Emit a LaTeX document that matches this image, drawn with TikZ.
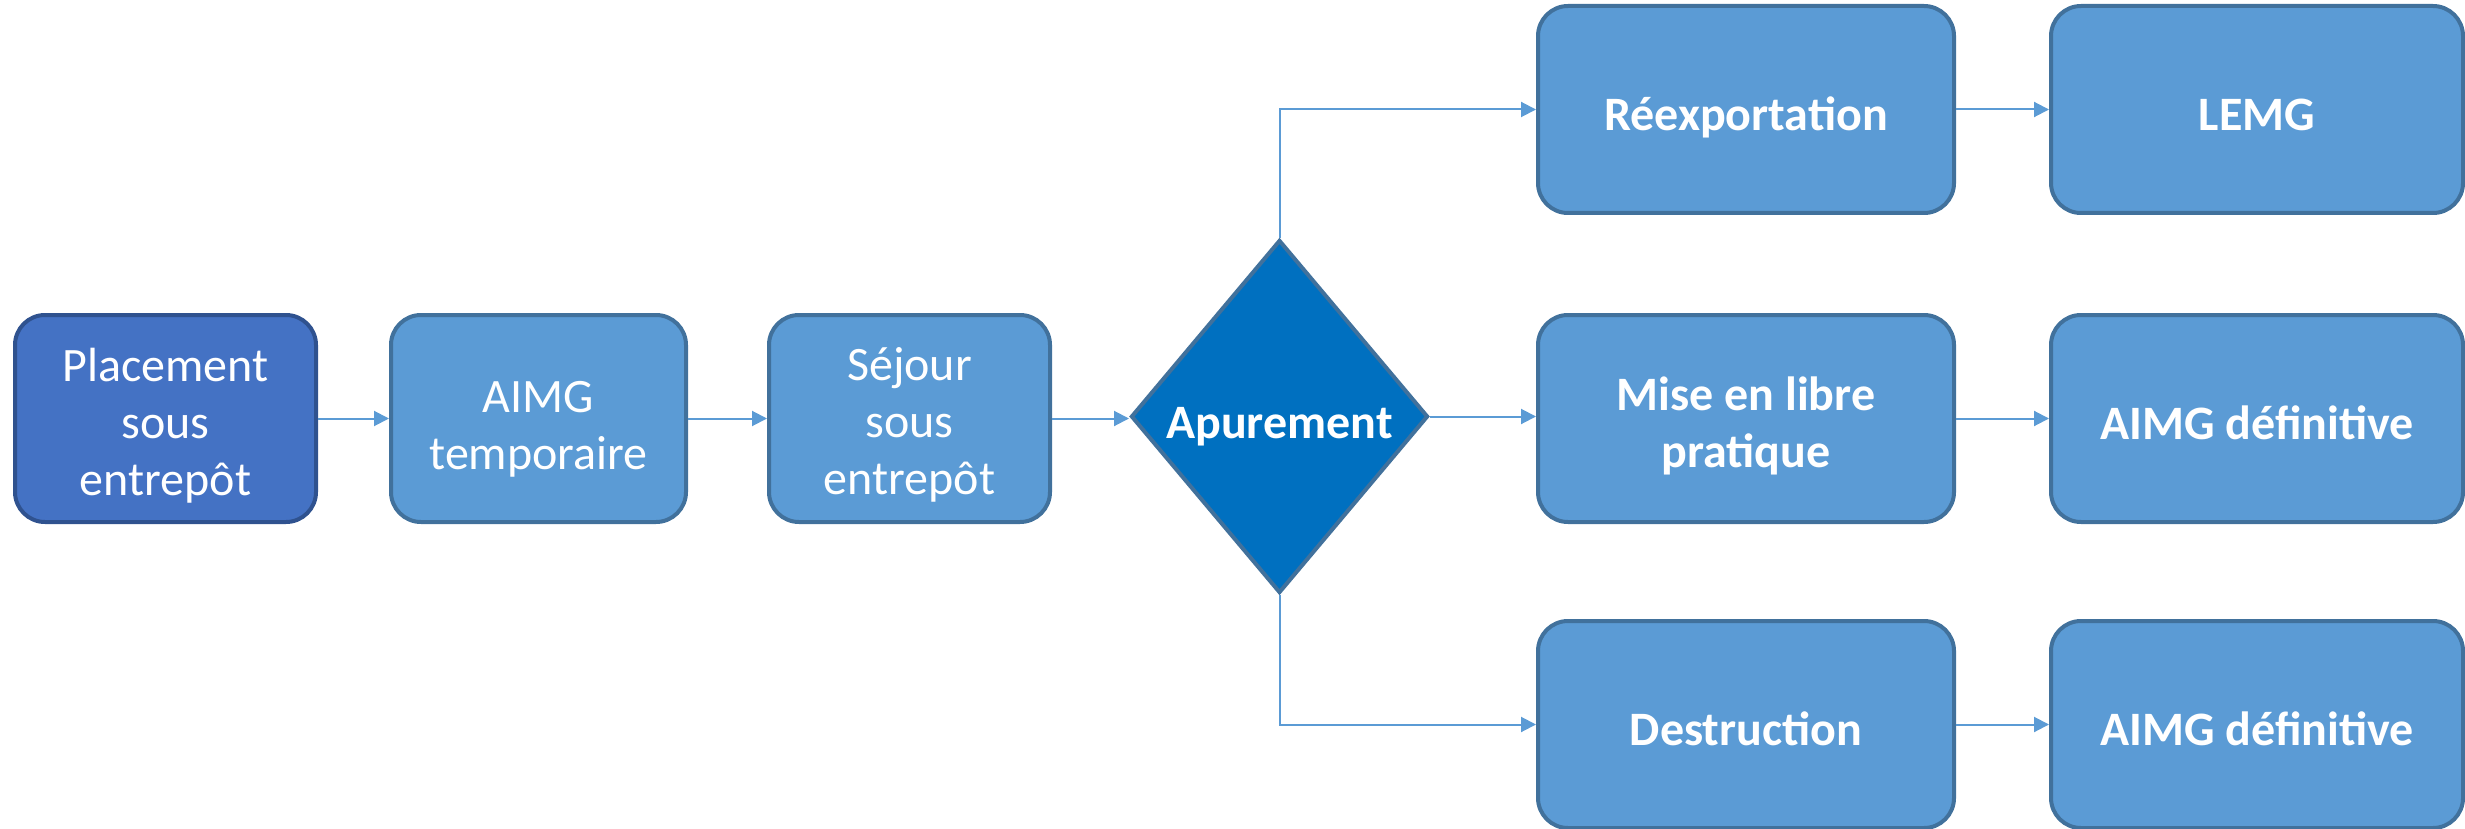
\documentclass[tikz,border=0pt]{standalone}
\usepackage{fontspec}
\setmainfont{Carlito}
\usetikzlibrary{shapes.geometric,arrows.meta}
\definecolor{boxfill}{HTML}{5B9BD5}
\definecolor{boxline}{HTML}{41719C}
\definecolor{startfill}{HTML}{4472C4}
\definecolor{startline}{HTML}{2F528F}
\definecolor{decfill}{HTML}{0070C0}
\definecolor{arrowc}{HTML}{5B9BD5}
\tikzset{
  stepbox/.style={rectangle, rounded corners=30pt, draw=boxline, fill=boxfill, line width=4pt,
    inner sep=0pt, minimum height=207pt},
  startbox/.style={stepbox, draw=startline, fill=startfill},
  decision/.style={diamond, draw=boxline, fill=decfill, line width=4pt,
    inner sep=0pt, minimum width=297pt, minimum height=353pt},
  txt/.style={text=white, align=center, inner sep=0pt, font=\fontsize{48}{57}\selectfont},
  btxt/.style={txt, font=\fontsize{48}{57}\selectfont\bfseries},
  conn/.style={draw=arrowc, line width=2pt, -{Triangle[length=15pt,width=15pt]}}
}
\begin{document}
\begin{tikzpicture}[x=1pt,y=-1pt]
\useasboundingbox (0,0) rectangle (2465,829);
\node[startbox, minimum width=301pt, label={[txt,yshift=-7.5pt]center:{Placement\\sous\\entrepôt}}] (b1) at (165.5,418.5) {};
\node[stepbox, minimum width=295pt, label={[txt,yshift=-11pt]center:{AIMG\\temporaire}}] (b2) at (538.5,418.5) {};
\node[stepbox, minimum width=281pt, label={[txt,yshift=-6.5pt]center:{Séjour\\sous\\entrepôt}}] (b3) at (909.5,418.5) {};
\node[decision, label={[btxt,yshift=-10pt]center:Apurement}] (d) at (1279.5,416.5) {};
\node[stepbox, minimum width=416pt, label={[btxt,yshift=-8pt]center:Réexportation}] (r1) at (1746,109.5) {};
\node[stepbox, minimum width=416pt, label={[btxt,yshift=-7.5pt]center:{Mise en libre\\pratique}}] (r2) at (1746,418.5) {};
\node[stepbox, minimum width=416pt, label={[btxt,yshift=-4pt]center:Destruction}] (r3) at (1746,724.5) {};
\node[stepbox, minimum width=412pt, label={[btxt,yshift=-5pt]center:LEMG}] (s1) at (2257,109.5) {};
\node[stepbox, minimum width=412pt, label={[btxt,yshift=-4.5pt]center:AIMG définitive}] (s2) at (2257,418.5) {};
\node[stepbox, minimum width=412pt, label={[btxt,yshift=-4.5pt]center:AIMG définitive}] (s3) at (2257,724.5) {};
\draw[conn] (b1.east) -- (b2.west);
\draw[conn] (b2.east) -- (b3.west);
\draw[conn] (b3.east) -- (b3.east -| d.west);
\draw[conn] (d.east) -- (d.east -| r2.west);
\draw[conn] (d.north) |- (r1.west);
\draw[conn] (d.south) |- (r3.west);
\draw[conn] (r1.east) -- (s1.west);
\draw[conn] (r2.east) -- (s2.west);
\draw[conn] (r3.east) -- (s3.west);
\end{tikzpicture}
\end{document}
